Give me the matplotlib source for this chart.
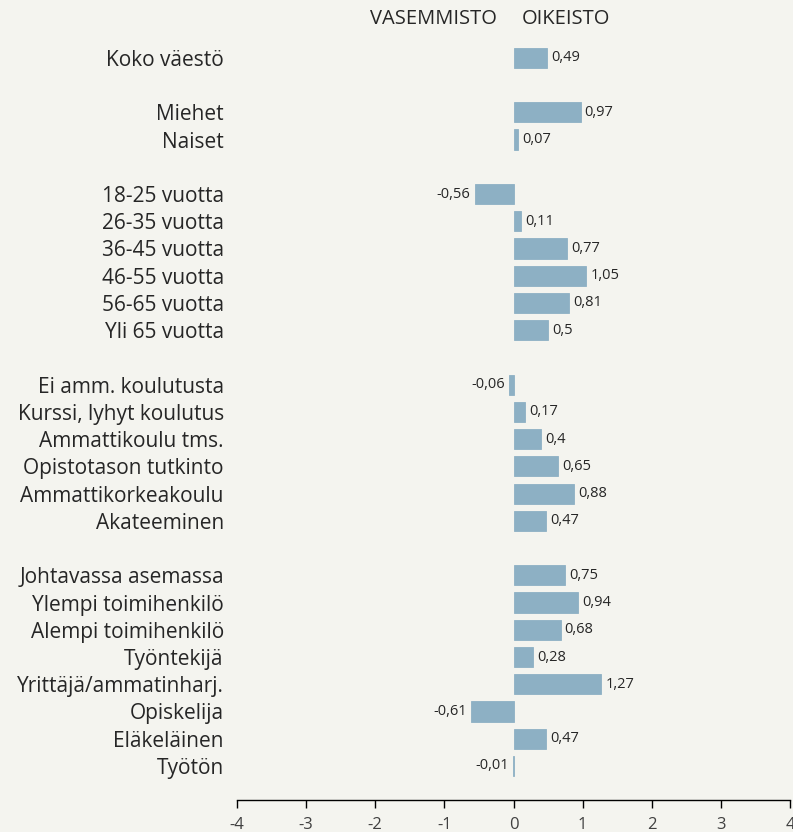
import matplotlib.pyplot as plt
import numpy as np

plt.rcParams['font.family'] = ['Open Sans', 'DejaVu Sans']

labels = ["Koko väestö", "",
          "Miehet", "Naiset", "",
          "18-25 vuotta", "26-35 vuotta", "36-45 vuotta", "46-55 vuotta", "56-65 vuotta", "Yli 65 vuotta", "",
          "Ei amm. koulutusta", "Kurssi, lyhyt koulutus", "Ammattikoulu tms.", "Opistotason tutkinto",
          "Ammattikorkeakoulu", "Akateeminen", "",
          "Johtavassa asemassa", "Ylempi toimihenkilö", "Alempi toimihenkilö", "Työntekijä",
          "Yrittäjä/ammatinharj.", "Opiskelija", "Eläkeläinen", "Työtön"]
values = [0.49, None,
          0.97, 0.07, None,
          -0.56, 0.11, 0.77, 1.05, 0.81, 0.5, None,
          -0.06, 0.17, 0.4, 0.65, 0.88, 0.47, None,
          0.75, 0.94, 0.68, 0.28, 1.27, -0.61, 0.47, -0.01]
xticks = [-4, -3, -2, -1, 0, 1, 2, 3, 4]

bg = "#f4f4ef"
bar_color = "#8db0c4"
text_color = "#262626"

fig = plt.figure(figsize=(7.93, 8.32), dpi=100, facecolor=bg)
ax = fig.add_axes([237/793, 1 - 800/832, (790 - 237)/793, (800 - 17)/832])
ax.set_facecolor(bg)

y = np.arange(len(labels))
for i, v in enumerate(values):
    if v is None:
        continue
    ax.barh(i, v, height=0.74, color=bar_color, edgecolor=bar_color, linewidth=0.6)
    txt = f"{v:g}".replace(".", ",")
    if v >= 0:
        ax.annotate(txt, xy=(v, i), xytext=(3, 0), textcoords="offset points",
                    ha="left", va="center", fontsize=10.5, color=text_color)
    else:
        ax.annotate(txt, xy=(v, i), xytext=(-3, 0), textcoords="offset points",
                    ha="right", va="center", fontsize=10.5, color=text_color)

ax.set_xlim(-4, 4)
ax.set_ylim(27.25, -1.5)
ax.set_xticks(xticks)
ax.set_xticklabels([str(t) for t in xticks], fontsize=12, color="#404040")
ax.set_yticks(y)
ax.set_yticklabels(labels, fontsize=15, color=text_color)
ax.tick_params(axis="y", length=0, pad=9.5)
ax.tick_params(axis="x", direction="out", length=6, width=1, pad=6)
for s in ["left", "right", "top"]:
    ax.spines[s].set_visible(False)
ax.spines["bottom"].set_linewidth(1)

fig.text(497/793, 1 - 19/832, "VASEMMISTO", ha="right", va="center", fontsize=14.5, color=text_color)
fig.text(522/793, 1 - 19/832, "OIKEISTO", ha="left", va="center", fontsize=14.5, color=text_color)

fig.savefig("out.png", dpi=100, facecolor=bg)
